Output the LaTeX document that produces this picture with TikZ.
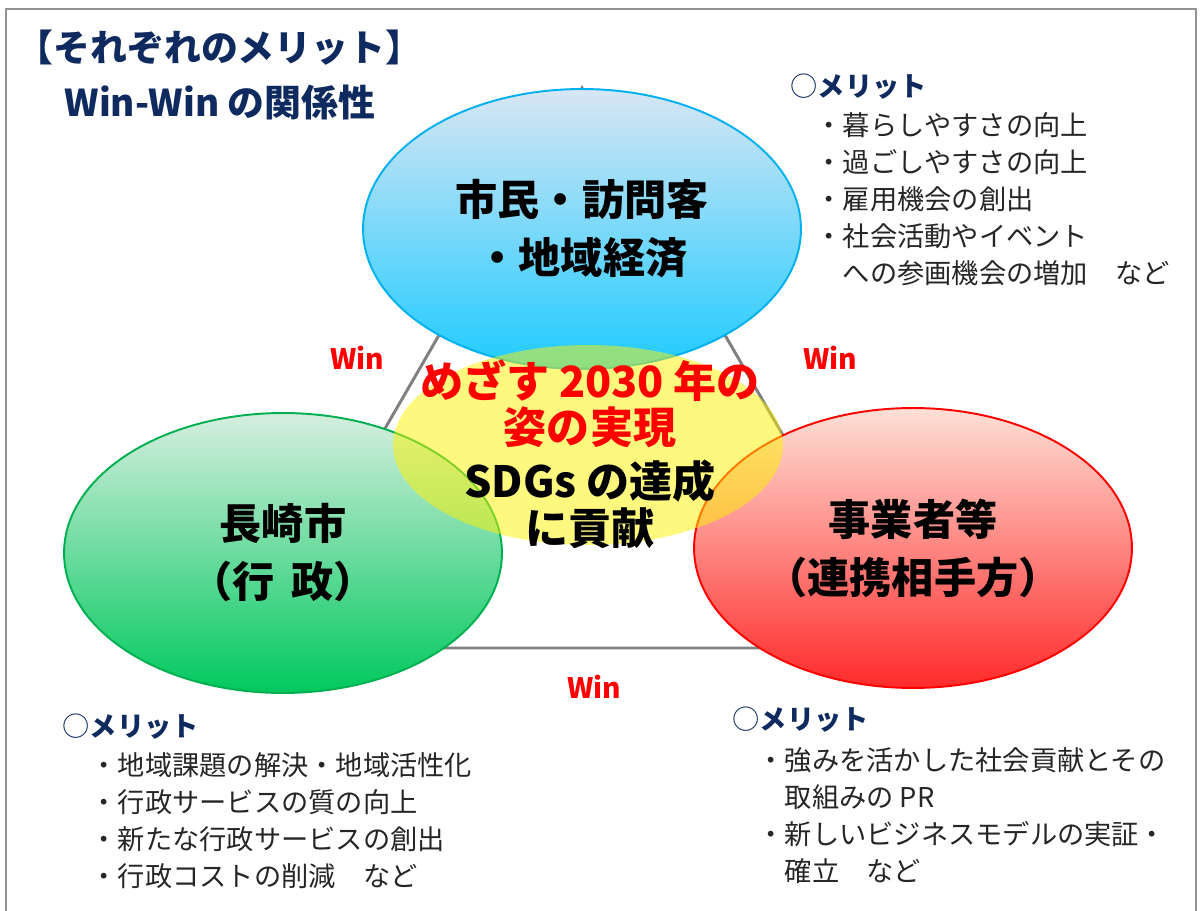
\documentclass[tikz,border=0pt]{standalone}
\usepackage{fontspec}
\setmainfont{Noto Sans CJK JP}
\usetikzlibrary{shapes.geometric}

\definecolor{navy}{HTML}{0E2A5E}
\definecolor{bodytext}{HTML}{262626}
\definecolor{linegray}{HTML}{808080}
\definecolor{skyline}{HTML}{00B0F0}
\definecolor{leafline}{HTML}{00B050}
\definecolor{skytop}{HTML}{D8E6F4}
\definecolor{skymid}{HTML}{9FE2FA}
\definecolor{skybot}{HTML}{1ECBFF}
\definecolor{leaftop}{HTML}{D6EEDF}
\definecolor{leafmid}{HTML}{66FFAA}
\definecolor{leafbot}{HTML}{00C95E}
\definecolor{firetop}{HTML}{FDE0D6}
\definecolor{firemid}{HTML}{FF9C9C}
\definecolor{firebot}{HTML}{FF2B2B}

\begin{document}
\begin{tikzpicture}[
    x=0.02cm, y=-0.02cm,
    thick,
    font=\fontsize{15.5}{21}\selectfont
]
	\tikzset{
	    bubble/.style = {ellipse, line width=1.1pt, align=center, inner sep=0pt,
	        minimum width=8.76cm, minimum height=5.6cm,
	        font=\bfseries\fontsize{24}{33}\selectfont},
	    bubbleb/.style = {bubble, draw=skyline, top color=skytop,
	        middle color=skymid, bottom color=skybot},
	    bubbleg/.style = {bubble, draw=leafline, top color=leaftop,
	        middle color=leafmid, bottom color=leafbot},
	    bubbler/.style = {bubble, draw=red, top color=firetop, middle color=firemid,
	        bottom color=firebot},
	    goal/.style = {ellipse, fill=yellow, fill opacity=0.5, inner sep=0pt,
	        minimum width=7.8cm, minimum height=4cm},
	    goaltext/.style = {align=center, inner sep=0pt,
	        font=\bfseries\fontsize{24.5}{26.5}\selectfont},
	    winlabel/.style = {text=red, font=\bfseries\fontsize{16}{16}\selectfont},
	    merith/.style = {anchor=west, text=navy, font=\bfseries\fontsize{15.5}{21}\selectfont},
	    meritl/.style = {anchor=north west, align=left, inner sep=0pt, text=bodytext},
	    titletext/.style = {anchor=west, text=navy, font=\bfseries\fontsize{21}{24}\selectfont},
	    tri/.style = {linegray, line width=1.7pt}
	}
	\useasboundingbox (0,0) rectangle (1200,911);
	\draw[linegray!85, line width=1.2pt] (6,915) -- (6,9) -- (1196,9) -- (1196,915);

	% title
	\node[titletext] at (10,48) (head) {【それぞれのメリット】};
	\node[titletext] at (58,102) (subhead) {Win-Win の関係性};

	% triangle behind the bubbles
	\coordinate (ta) at (582,88);
	\coordinate (tl) at (258,648);
	\coordinate (tr) at (906,648);
	\draw[tri] (ta) -- (tl) -- (tr) -- cycle;

	\node[bubbleb] at (582,229) (citizen) {市民・訪問客\\・地域経済};
	\node[bubbleg] at (283,553) (city) {長崎市\\（行\hspace{0.4em}政）};
	\node[bubbler] at (913,548) (firm) {事業者等\\（連携相手方）};
	\node[goal] at (588,445) (vision) {};
	\node[goaltext] at (590,454) (visiontext) {\textcolor{red}{めざす 2030 年の}\\\textcolor{red}{姿の実現}\\[4pt]SDGs の達成\\に貢献};

	\node[winlabel] at (357,358) (winl) {Win};
	\node[winlabel] at (830,358) (winr) {Win};
	\node[winlabel] at (594,687) (winb) {Win};

	% merits
	\node[merith] at (784,87) (mcith) {{\mdseries ○}メリット};
	\node[meritl] at (815,112) (mcit) {・暮らしやすさの向上\\・過ごしやすさの向上\\・雇用機会の創出\\・社会活動やイベント\\　への参画機会の増加　など};
	\node[merith] at (56,727) (mcityh) {{\mdseries ○}メリット};
	\node[meritl] at (90,752) (mcity) {・地域課題の解決・地域活性化\\・行政サービスの質の向上\\・新たな行政サービスの創出\\・行政コストの削減　など};
	\node[merith] at (726,720) (mfirmh) {{\mdseries ○}メリット};
	\node[meritl] at (757,747) (mfirm) {・強みを活かした社会貢献とその\\　取組みの PR\\・新しいビジネスモデルの実証・\\　確立　など};
\end{tikzpicture}
\end{document}
